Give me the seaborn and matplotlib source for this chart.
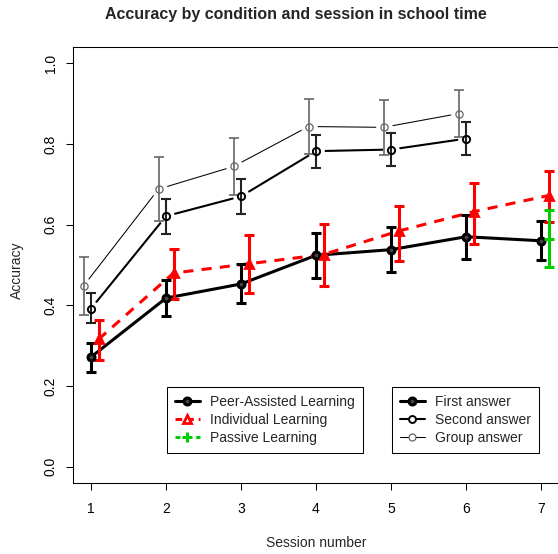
import matplotlib
matplotlib.use("Agg")
import matplotlib.pyplot as plt
from matplotlib.lines import Line2D
import seaborn as sns
import numpy as np

# --- values ---
sessions = np.array([1, 2, 3, 4, 5, 6, 7])

peer_first = [0.272, 0.418, 0.453, 0.524, 0.538, 0.570, 0.560]
peer_first_lo = [0.235, 0.373, 0.405, 0.468, 0.483, 0.514, 0.513]
peer_first_hi = [0.308, 0.464, 0.503, 0.580, 0.595, 0.624, 0.608]

indiv = [0.316, 0.480, 0.503, 0.526, 0.584, 0.632, 0.672]
indiv_lo = [0.264, 0.417, 0.431, 0.448, 0.511, 0.553, 0.606]
indiv_hi = [0.363, 0.540, 0.575, 0.601, 0.647, 0.702, 0.734]

passive_sessions = np.array([7])
passive = [0.565]
passive_lo = [0.494]
passive_hi = [0.636]

pal_sessions = np.array([1, 2, 3, 4, 5, 6])
second = [0.392, 0.621, 0.670, 0.782, 0.786, 0.813]
second_lo = [0.356, 0.578, 0.627, 0.740, 0.744, 0.772]
second_hi = [0.430, 0.664, 0.712, 0.823, 0.828, 0.853]

group = [0.448, 0.688, 0.744, 0.843, 0.841, 0.875]
group_lo = [0.375, 0.610, 0.673, 0.775, 0.773, 0.818]
group_hi = [0.520, 0.768, 0.814, 0.911, 0.908, 0.933]

RED = "#FF0000"
GREEN = "#00CD00"
GREY = "#666666"

sns.set_style("ticks")
plt.rcParams["font.family"] = ["Liberation Sans", "DejaVu Sans"]
plt.rcParams["font.size"] = 10

fig = plt.figure(figsize=(5.58, 5.54), dpi=100)
ax = fig.add_axes([73 / 558, 1 - 483 / 554, 486 / 558, 436 / 554])


def series(x, y, lo, hi, color, lw, marker, ms, mew, mec, mfc, ecolor, elw,
           dashed=False, gap=False):
    x = np.asarray(x, dtype=float)
    y = np.asarray(y)
    sns.lineplot(x=x, y=y, ax=ax, color=color, linewidth=lw, sort=False,
                 errorbar=None, zorder=2)
    line = ax.lines[-1]
    line.set_marker("None")
    if dashed:
        line.set_dashes((3.3, 2.7))
    if gap:
        # R type="b": white halo so the line stops short of the points
        ax.plot(x, y, ls="none", marker="o", ms=12, mfc="white", mec="none", zorder=2.5)
    ax.errorbar(x, y, yerr=[y - np.asarray(lo), np.asarray(hi) - y], fmt="none",
                ecolor=ecolor, elinewidth=elw, capsize=3.8, capthick=elw, zorder=3)
    ax.plot(x, y, ls="none", marker=marker, ms=ms, mfc=mfc, mec=mec, mew=mew, zorder=4)


# group answer (thin), second answer (medium), first answer (thick)
series(pal_sessions - 0.1, group, group_lo, group_hi, "black", 0.75, "o", 5.2, 0.9,
       GREY, "none", GREY, 1.2, gap=True)
series(pal_sessions, second, second_lo, second_hi, "black", 1.5, "o", 5.2, 1.4,
       "black", "none", "#222222", 1.5, gap=True)
series(sessions, peer_first, peer_first_lo, peer_first_hi, "black", 2.2, "o", 5.0, 2.2,
       "black", "#444444", "black", 2.2)
series(sessions + 0.1, indiv, indiv_lo, indiv_hi, RED, 2.2, "^", 5.2, 2.0,
       RED, RED, RED, 2.2, dashed=True)
series(passive_sessions + 0.1, passive, passive_lo, passive_hi, GREEN, 2.2, "+", 7.5, 2.2,
       GREEN, "none", GREEN, 2.2, dashed=True)

ax.set_xlim(0.76, 7.24)
ax.set_ylim(-0.04, 1.04)
ax.set_xticks(sessions)
ax.set_yticks([0.0, 0.2, 0.4, 0.6, 0.8, 1.0])
ax.set_yticklabels(["0.0", "0.2", "0.4", "0.6", "0.8", "1.0"], rotation=90, va="center")
ax.tick_params(direction="out", length=5, width=0.75, colors="black", labelsize=10)
ax.tick_params(axis="y", pad=6)
ax.tick_params(axis="x", pad=9)
for s in ax.spines.values():
    s.set_visible(True)
    s.set_linewidth(0.75)
    s.set_color("black")

ax.set_xlabel("Session number", fontsize=10)
ax.xaxis.set_label_coords(0.5, (483 - 543) / 436)
ax.xaxis.label.set_va("center")
ax.set_ylabel("Accuracy", fontsize=10)
ax.yaxis.set_label_coords((17 - 73) / 486, 0.5 - 5 / 436)
ax.yaxis.label.set_va("center")

fig.text(296 / 558, 1 - 14 / 554, "Accuracy by condition and session in school time",
         ha="center", va="center", fontsize=11.5, fontweight="bold")

cond_handles = [
    Line2D([], [], color="black", lw=2.2, marker="o", ms=5, mfc="#444444", mew=2.2),
    Line2D([], [], color=RED, lw=2.2, ls=(0, (2.2, 1.6)), marker="^", ms=5.5, mfc="white", mew=2.0),
    Line2D([], [], color=GREEN, lw=2.2, ls=(0, (1.6, 1.8)), marker="+", ms=7.5, mew=2.2),
]
cond_labels = ["Peer-Assisted Learning", "Individual Learning", "Passive Learning"]
ans_handles = [
    Line2D([], [], color="black", lw=2.2, marker="o", ms=5, mfc="#444444", mew=2.2),
    Line2D([], [], color="black", lw=1.5, marker="o", ms=5, mfc="white", mew=1.4),
    Line2D([], [], color="black", lw=0.75, marker="o", ms=5, mfc="white", mew=0.9, mec=GREY),
]
ans_labels = ["First answer", "Second answer", "Group answer"]

leg_kw = dict(loc="upper left", bbox_transform=fig.transFigure, fontsize=10, frameon=True,
              fancybox=False, framealpha=1, edgecolor="black", handlelength=1.75,
              handletextpad=0.75, labelspacing=0.27, borderpad=0.6, borderaxespad=0)
leg1 = ax.legend(cond_handles, cond_labels, bbox_to_anchor=(167 / 558, 1 - 387 / 554), **leg_kw)
leg1.get_frame().set_linewidth(0.75)
ax.add_artist(leg1)
leg2 = ax.legend(ans_handles, ans_labels, bbox_to_anchor=(392 / 558, 1 - 387 / 554), **leg_kw)
leg2.get_frame().set_linewidth(0.75)

fig.savefig("out.png", dpi=100)
